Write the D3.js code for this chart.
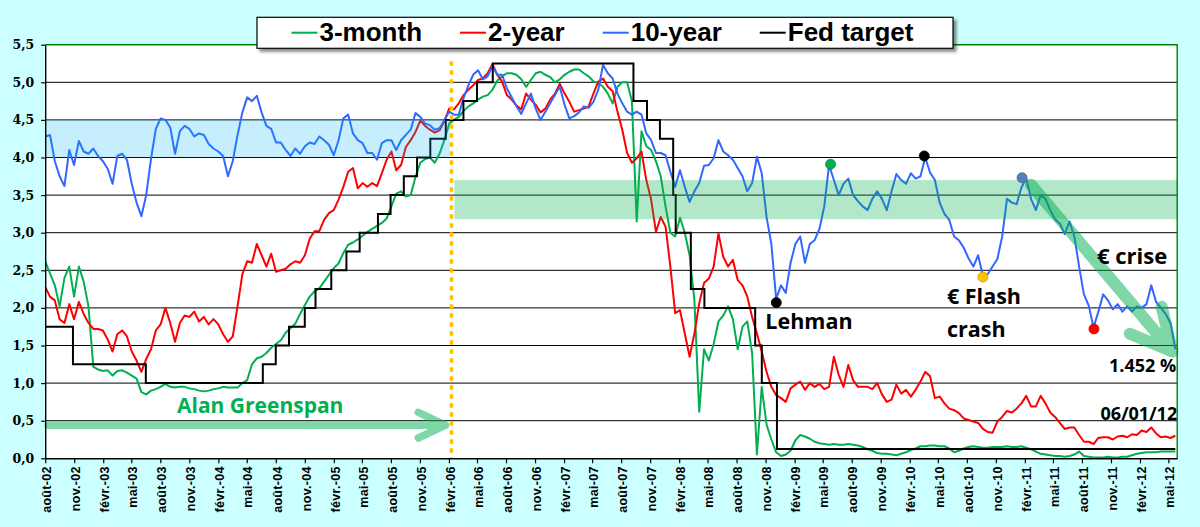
<!DOCTYPE html>
<html>
<head>
<meta charset="utf-8">
<script src="https://cdnjs.cloudflare.com/ajax/libs/d3/7.8.5/d3.min.js"></script>
<style>
html, body { margin: 0; padding: 0; background: #ccffff; }
svg { display: block; }
</style>
</head>
<body>
<script>
var w = 1200;
var h = 527;

// half-monthly readings, 10 Aug 2002 -> 1 Jun 2012
var startDate = new Date(2002, 7, 10);
var endDate = new Date(2012, 5, 1);

var threeMonth = [
  2.62, 2.46, 2.30, 2.02, 2.40, 2.55, 2.15, 2.55, 2.35, 2.02,
  1.22, 1.18, 1.16, 1.17, 1.10, 1.16, 1.17, 1.14, 1.10, 1.06,
  0.88, 0.85, 0.90, 0.92, 0.95, 0.99, 0.95, 0.94, 0.95, 0.95,
  0.93, 0.92, 0.90, 0.89, 0.90, 0.92, 0.93, 0.95, 0.94, 0.94,
  0.94, 1.00, 1.04, 1.25, 1.33, 1.35, 1.40, 1.47, 1.52, 1.57,
  1.67, 1.73, 1.79, 1.92, 2.04, 2.15, 2.22, 2.26,
  2.35, 2.44, 2.53, 2.59, 2.73, 2.84, 2.87, 2.91, 2.96, 3.01,
  3.05, 3.09, 3.13, 3.19, 3.35, 3.52, 3.55, 3.48, 3.50, 3.74,
  3.93, 3.98, 4.00, 3.93, 4.05, 4.23, 4.45, 4.50, 4.54, 4.62,
  4.68, 4.72, 4.77, 4.81, 4.83, 4.90, 5.02, 5.08, 5.12, 5.12,
  5.10, 5.04, 4.94, 5.03, 5.12, 5.14, 5.10, 5.07, 5.00, 5.04,
  5.10, 5.14, 5.17, 5.17, 5.12, 5.08,
  5.01, 4.99, 4.94, 4.85, 4.72, 4.94, 5.00, 5.00, 4.75, 3.15,
  4.35, 4.15, 4.10, 3.95, 3.75, 3.35, 3.00, 2.95, 3.20, 3.00,
  2.70, 2.10, 0.62, 1.45, 1.30, 1.52, 1.82, 1.90, 2.02, 1.85,
  1.45, 1.75, 1.82, 1.40, 0.05, 0.95, 0.45, 0.25, 0.08, 0.03,
  0.05, 0.10, 0.24, 0.31, 0.29, 0.26, 0.22, 0.20, 0.19, 0.18,
  0.19, 0.18, 0.18, 0.19, 0.18, 0.17,
  0.15, 0.12, 0.10, 0.07, 0.06, 0.06, 0.05, 0.04,
  0.06, 0.08, 0.11, 0.13, 0.16, 0.16, 0.17, 0.17, 0.16, 0.16,
  0.13, 0.08, 0.10, 0.13, 0.15, 0.16, 0.15, 0.14, 0.14, 0.15,
  0.15, 0.15, 0.16, 0.15, 0.15, 0.16, 0.14, 0.12, 0.09, 0.06,
  0.05, 0.04, 0.03, 0.03, 0.02, 0.03, 0.05, 0.09, 0.03, 0.02,
  0.01, 0.01, 0.01, 0.02, 0.01, 0.01, 0.02, 0.02, 0.04, 0.06,
  0.07, 0.08, 0.08, 0.08, 0.09, 0.09, 0.09, 0.09
];

var twoYear = [
  2.28, 2.15, 2.10, 1.85, 1.80, 2.05, 1.85, 2.08, 1.92, 1.80,
  1.72, 1.72, 1.70, 1.58, 1.42, 1.65, 1.70, 1.62, 1.42, 1.30,
  1.15, 1.32, 1.45, 1.70, 1.78, 2.00, 1.80, 1.55, 1.80, 1.90,
  1.88, 1.95, 1.82, 1.88, 1.78, 1.85, 1.78, 1.65, 1.55, 1.62,
  2.02, 2.45, 2.62, 2.60, 2.85, 2.70, 2.55, 2.72, 2.48, 2.50,
  2.52, 2.58, 2.62, 2.60, 2.70, 2.92, 3.02, 3.02,
  3.17, 3.26, 3.30, 3.44, 3.61, 3.81, 3.86, 3.59, 3.66, 3.61,
  3.66, 3.62, 3.79, 3.97, 4.08, 3.83, 3.90, 4.14, 4.23, 4.34,
  4.49, 4.42, 4.37, 4.33, 4.36, 4.48, 4.65, 4.64, 4.72, 4.83,
  4.90, 4.96, 5.03, 5.05, 5.12, 5.24, 5.10, 5.01, 4.83, 4.77,
  4.69, 4.64, 4.85, 4.77, 4.70, 4.60, 4.65, 4.77, 4.85, 4.98,
  4.85, 4.74, 4.61, 4.63, 4.65, 4.68,
  4.85, 5.01, 5.05, 4.94, 4.88, 4.61, 4.37, 4.06, 3.93, 3.99,
  4.08, 3.70, 3.44, 3.01, 3.21, 3.08, 2.55, 1.93, 1.97, 1.66,
  1.35, 1.66, 2.06, 2.33, 2.39, 2.55, 2.99, 2.68, 2.55, 2.64,
  2.37, 2.30, 2.15, 1.88, 1.66, 1.42, 1.15, 0.95, 0.84, 0.80,
  0.75, 0.93, 0.98, 1.02, 0.91, 1.00, 0.95, 0.99, 0.92, 0.95,
  1.35, 1.11, 0.95, 1.24, 1.04, 0.95,
  0.95, 0.95, 0.92, 1.00, 0.85, 0.75, 0.78, 0.98,
  0.86, 0.91, 0.82, 0.91, 1.02, 1.15, 1.09, 0.80, 0.82, 0.73,
  0.66, 0.64, 0.60, 0.53, 0.51, 0.49, 0.47, 0.39, 0.35, 0.34,
  0.49, 0.55, 0.63, 0.61, 0.66, 0.73, 0.83, 0.69, 0.69, 0.83,
  0.73, 0.61, 0.55, 0.47, 0.39, 0.41, 0.41, 0.31, 0.22, 0.22,
  0.19, 0.27, 0.28, 0.28, 0.25, 0.29, 0.30, 0.28, 0.32, 0.31,
  0.37, 0.35, 0.41, 0.33, 0.28, 0.29, 0.27, 0.30
];

var tenYear = [
  4.28, 4.30, 3.95, 3.75, 3.62, 4.10, 3.90, 4.22, 4.08, 4.05,
  4.12, 4.02, 3.95, 3.85, 3.65, 4.02, 4.05, 3.97, 3.65, 3.40,
  3.22, 3.50, 3.98, 4.38, 4.52, 4.50, 4.40, 4.05, 4.35, 4.42,
  4.38, 4.28, 4.32, 4.30, 4.18, 4.12, 4.08, 4.02, 3.75, 3.95,
  4.30, 4.60, 4.80, 4.75, 4.82, 4.60, 4.42, 4.38, 4.20, 4.20,
  4.10, 4.02, 4.12, 4.05, 4.15, 4.20, 4.18, 4.28,
  4.23, 4.17, 4.03, 4.23, 4.52, 4.57, 4.32, 4.23, 4.19, 4.06,
  4.06, 3.97, 4.19, 4.23, 4.23, 4.10, 4.23, 4.30, 4.37, 4.59,
  4.54, 4.45, 4.43, 4.37, 4.39, 4.50, 4.61, 4.57, 4.57, 4.79,
  4.96, 5.10, 5.16, 5.04, 5.08, 5.22, 5.10, 5.10, 4.92, 4.80,
  4.68, 4.58, 4.72, 4.85, 4.65, 4.50, 4.61, 4.72, 4.83, 4.94,
  4.70, 4.52, 4.55, 4.60, 4.68, 4.66,
  4.74, 4.90, 5.23, 5.12, 5.05, 4.85, 4.72, 4.61, 4.57, 4.61,
  4.57, 4.32, 4.23, 4.06, 4.06, 4.03, 3.81, 3.61, 3.83, 3.61,
  3.41, 3.55, 3.66, 3.89, 3.90, 3.99, 4.23, 4.08, 4.03, 3.97,
  3.86, 3.75, 3.55, 3.66, 4.01, 3.79, 3.21, 2.85, 2.12, 2.30,
  2.20, 2.60, 2.85, 2.95, 2.60, 2.85, 2.90, 3.05, 3.35, 3.90,
  3.70, 3.50, 3.65, 3.72, 3.50, 3.42,
  3.35, 3.30, 3.45, 3.55, 3.45, 3.30, 3.55, 3.78,
  3.70, 3.65, 3.79, 3.72, 3.75, 4.00, 3.80, 3.70, 3.40, 3.25,
  3.17, 2.95, 2.90, 2.80, 2.66, 2.55, 2.70, 2.42, 2.45, 2.55,
  2.65, 2.95, 3.45, 3.40, 3.38, 3.60, 3.72, 3.45, 3.30, 3.50,
  3.45, 3.30, 3.18, 3.12, 2.98, 3.15, 2.95, 2.55, 2.18, 2.03,
  1.74, 1.95, 2.18, 2.10, 1.98, 2.05, 1.95, 2.02, 1.95, 2.02,
  2.00, 2.05, 2.30, 2.08, 2.00, 1.92, 1.80, 1.45
];

// Fed funds target changes
var fedDates = [
  "2002-08-10", "2002-11-06", "2003-06-25", "2004-06-30", "2004-08-10",
  "2004-09-21", "2004-11-10", "2004-12-14", "2005-02-02", "2005-03-22",
  "2005-05-03", "2005-06-30", "2005-08-09", "2005-09-20", "2005-11-01",
  "2005-12-13", "2006-01-31", "2006-03-28", "2006-05-10", "2006-06-29",
  "2007-09-18", "2007-10-31", "2007-12-11", "2008-01-22", "2008-01-30",
  "2008-03-18", "2008-04-30", "2008-10-08", "2008-10-29", "2008-12-16",
  "2012-06-01"
];
var fedRates = [
  1.75, 1.25, 1.00, 1.25, 1.50,
  1.75, 2.00, 2.25, 2.50, 2.75,
  3.00, 3.25, 3.50, 3.75, 4.00,
  4.25, 4.50, 4.75, 5.00, 5.25,
  4.75, 4.50, 4.25, 3.50, 3.00,
  2.25, 2.00, 1.50, 1.00, 0.125,
  0.125
];

var seriesNames = ["3-month", "2-year", "10-year", "Fed target"];
var seriesColors = ["#00b050", "#ff0000", "#3366ff", "#000000"];

var yTicks = [0, 0.5, 1, 1.5, 2, 2.5, 3, 3.5, 4, 4.5, 5, 5.5];
var frMonths = ["janv.", "févr.", "mars", "avr.", "mai", "juin",
                "juil.", "août", "sept.", "oct.", "nov.", "déc."];

// marked turning points of the 10-year
var markerDates = ["2008-12-14", "2009-06-04", "2010-03-28", "2010-09-30", "2011-02-01", "2011-09-17"];
var markerValues = [2.07, 3.91, 4.02, 2.41, 3.73, 1.72];
var markerColors = ["#000000", "#00b050", "#000000", "#ffc000", "#5580b8", "#ff0000"];

var greenspanEnd = "2006-02-18";

// ================================================

var parse = d3.timeParse("%Y-%m-%d");
var fr = d3.timeFormatLocale({
    dateTime: "%A %e %B %Y à %X",
    date: "%d/%m/%Y",
    time: "%H:%M:%S",
    periods: ["AM", "PM"],
    days: ["dimanche", "lundi", "mardi", "mercredi", "jeudi", "vendredi", "samedi"],
    shortDays: ["dim.", "lun.", "mar.", "mer.", "jeu.", "ven.", "sam."],
    months: ["janvier", "février", "mars", "avril", "mai", "juin", "juillet",
             "août", "septembre", "octobre", "novembre", "décembre"],
    shortMonths: frMonths
});

var plotL = 45.2, plotR = 1177.2, plotT = 44.7, plotB = 458.3;

var x = d3.scaleTime()
    .domain([startDate, new Date(2012, 5, 7)])
    .range([plotL, plotR]);
var y = d3.scaleLinear()
    .domain([0, 5.5])
    .range([plotB, plotT]);

var step = (endDate - startDate) / (tenYear.length - 1);
var dates = tenYear.map(function(d, i) { return new Date(+startDate + i * step); });

var svg = d3.select("body")
            .append("svg")
            .attr("width", w)
            .attr("height", h);

var defs = svg.append("defs");
defs.append("filter")
    .attr("id", "shadow")
    .attr("x", "-5%").attr("y", "-30%")
    .attr("width", "110%").attr("height", "180%")
    .append("feDropShadow")
        .attr("dx", 3).attr("dy", 3)
        .attr("stdDeviation", 1.6)
        .attr("flood-color", "#000")
        .attr("flood-opacity", 0.45);
defs.append("clipPath").attr("id", "plot")
    .append("rect")
        .attr("x", plotL).attr("y", plotT)
        .attr("width", plotR - plotL).attr("height", plotB - plotT);

svg.append("rect").attr("width", w).attr("height", h).attr("fill", "#ccffff");
svg.append("rect")
    .attr("x", plotL).attr("y", plotT)
    .attr("width", plotR - plotL).attr("height", plotB - plotT)
    .attr("fill", "#fff");

// grid
svg.append("g").selectAll("line")
    .data(yTicks.filter(function(d) { return d > 0 && d < 5.5; }))
    .enter().append("line")
        .attr("x1", plotL).attr("x2", plotR)
        .attr("y1", function(d) { return y(d); })
        .attr("y2", function(d) { return y(d); })
        .attr("stroke", "#000")
        .attr("stroke-width", 1);

// series
var line = d3.line()
    .x(function(d, i) { return x(dates[i]); })
    .y(function(d) { return y(d); });

var lines = svg.append("g").attr("clip-path", "url(#plot)");
[threeMonth, twoYear, tenYear].forEach(function(s, k) {
    lines.append("path")
        .attr("d", line(s))
        .attr("fill", "none")
        .attr("stroke", seriesColors[k])
        .attr("stroke-width", 2)
        .attr("stroke-linejoin", "round");
});

var fedLine = d3.line()
    .curve(d3.curveStepAfter)
    .x(function(d, i) { return x(parse(fedDates[i])); })
    .y(function(d) { return y(d); });
lines.append("path")
    .attr("d", fedLine(fedRates))
    .attr("fill", "none")
    .attr("stroke", seriesColors[3])
    .attr("stroke-width", 2);

// shaded ranges (drawn over the lines, translucent)
var xGs = x(parse(greenspanEnd));
svg.append("rect")
    .attr("x", plotL).attr("y", y(4.5))
    .attr("width", xGs - 1.5 - plotL).attr("height", y(4.0) - y(4.5))
    .attr("fill", "rgb(0,176,240)").attr("fill-opacity", 0.22);
svg.append("rect")
    .attr("x", xGs + 3).attr("y", y(3.70))
    .attr("width", plotR - xGs - 3).attr("height", y(3.18) - y(3.70))
    .attr("fill", "rgb(0,176,80)").attr("fill-opacity", 0.3);

// end of Greenspan term
svg.append("line")
    .attr("x1", xGs).attr("x2", xGs)
    .attr("y1", y(5.28)).attr("y2", plotB)
    .attr("stroke", "#ffc000")
    .attr("stroke-width", 3.5)
    .attr("stroke-dasharray", "4.5 4.5");

// arrows
function arrow(g, x0, y0, x1, y1, len, spread, width) {
    var a = Math.atan2(y0 - y1, x0 - x1);
    var p = "M" + x0 + "," + y0 + "L" + x1 + "," + y1;
    [-spread, spread].forEach(function(s) {
        p += "M" + (x1 + len * Math.cos(a + s)) + "," + (y1 + len * Math.sin(a + s)) +
             "L" + x1 + "," + y1;
    });
    g.append("path")
        .attr("d", p)
        .attr("fill", "none")
        .attr("stroke", "rgb(0,176,80)")
        .attr("stroke-width", width)
        .attr("stroke-linecap", "round")
        .attr("stroke-linejoin", "round");
}
var arrows = svg.append("g").attr("opacity", 0.5);
arrow(arrows, plotL + 3, y(0.44), xGs - 6, y(0.44), 30, 0.44, 7.5);
var mk = markerDates.map(function(d, i) { return [x(parse(d)), y(markerValues[i])]; });
arrow(arrows, mk[4][0] + 9, mk[4][1] + 7, x(endDate) - 3, y(1.42), 46, 0.47, 12);

// markers
svg.append("g").selectAll("circle")
    .data(mk)
    .enter().append("circle")
        .attr("cx", function(d) { return d[0]; })
        .attr("cy", function(d) { return d[1]; })
        .attr("r", 5)
        .attr("fill", function(d, i) { return markerColors[i]; })
        .attr("stroke", function(d, i) { return d3.color(markerColors[i]).darker(0.6); })
        .attr("stroke-width", 0.8);

// annotations
var note = svg.append("g")
    .attr("font-family", "'Open Sans', 'DejaVu Sans', sans-serif")
    .attr("font-weight", "bold");
note.append("text").text("Alan Greenspan")
    .attr("x", 177).attr("y", y(0.60))
    .attr("font-size", 21).attr("fill", "#00b050");
note.append("text").text("Lehman")
    .attr("x", mk[0][0] - 11).attr("y", mk[0][1] + 26)
    .attr("font-size", 21.5).attr("fill", "#000");
note.append("text").text("€ Flash")
    .attr("x", mk[3][0] - 36).attr("y", mk[3][1] + 27)
    .attr("font-size", 21.5).attr("fill", "#000");
note.append("text").text("crash")
    .attr("x", mk[3][0] - 36).attr("y", mk[3][1] + 59.5)
    .attr("font-size", 21.5).attr("fill", "#000");
note.append("text").text("€ crise")
    .attr("x", mk[5][0] + 3).attr("y", mk[5][1] - 65)
    .attr("font-size", 22).attr("fill", "#000");
note.append("text").text("1.452 %")
    .attr("x", plotR - 1).attr("y", y(tenYear[tenYear.length - 1]) + 23)
    .attr("text-anchor", "end")
    .attr("font-size", 18).attr("fill", "#000");
note.append("text").text("06/01/12")
    .attr("x", plotR).attr("y", y(twoYear[twoYear.length - 1]) - 16)
    .attr("text-anchor", "end")
    .attr("font-size", 18).attr("fill", "#000");

// frame
svg.append("path")
    .attr("d", "M" + plotL + "," + plotT + "H" + plotR + "V" + plotB)
    .attr("fill", "none")
    .attr("stroke", "#008000")
    .attr("stroke-width", 1.4);

// axes
var tickDates = d3.range(40).map(function(k) { return new Date(2002, 7 + 3 * k, 10); });
var xAxis = svg.append("g")
    .attr("transform", "translate(0," + plotB + ")")
    .call(d3.axisBottom(x)
        .tickValues(tickDates)
        .tickFormat(fr.format("%b-%y"))
        .tickSize(5)
        .tickSizeOuter(0));
xAxis.select(".domain").attr("stroke", "#000").attr("stroke-width", 1.4);
xAxis.selectAll(".tick line").attr("stroke", "#000").attr("stroke-width", 1.2);
xAxis.selectAll("text")
    .attr("transform", "rotate(-90)")
    .attr("text-anchor", "end")
    .attr("x", -8)
    .attr("y", 0)
    .attr("dy", "0.42em")
    .attr("fill", "#000")
    .attr("font-family", "'Liberation Sans', Arial, sans-serif")
    .attr("font-weight", "bold")
    .attr("font-size", 12.5)
    .attr("letter-spacing", 0.3);

var yAxis = svg.append("g")
    .attr("transform", "translate(" + plotL + ",0)")
    .call(d3.axisLeft(y)
        .tickValues(yTicks)
        .tickFormat(function(d) { return d3.format(".1f")(d).replace(".", ","); })
        .tickSize(4)
        .tickPadding(7)
        .tickSizeOuter(0));
yAxis.select(".domain").attr("stroke", "#000").attr("stroke-width", 1.4);
yAxis.selectAll(".tick line").attr("stroke", "#000").attr("stroke-width", 1.2);
yAxis.selectAll("text")
    .attr("fill", "#000")
    .attr("font-family", "'DejaVu Serif', serif")
    .attr("font-weight", "bold")
    .attr("font-size", 12.5);

// legend
var legend = svg.append("g");
legend.append("rect")
    .attr("x", 257).attr("y", 17.3)
    .attr("width", 696).attr("height", 31)
    .attr("fill", "#fff")
    .attr("stroke", "#000")
    .attr("stroke-width", 1.2)
    .attr("filter", "url(#shadow)");
var lx = 291.5;
seriesNames.forEach(function(name, k) {
    legend.append("line")
        .attr("x1", lx).attr("x2", lx + 26)
        .attr("y1", 32.7).attr("y2", 32.7)
        .attr("stroke", seriesColors[k])
        .attr("stroke-width", 2);
    var t = legend.append("text")
        .text(name)
        .attr("x", lx + 28).attr("y", 40.7)
        .attr("font-family", "'Liberation Sans', Arial, sans-serif")
        .attr("font-weight", "bold")
        .attr("font-size", 26)
        .attr("fill", "#000");
    lx += 28 + t.node().getComputedTextLength() + 38;
});
</script>
</body>
</html>
